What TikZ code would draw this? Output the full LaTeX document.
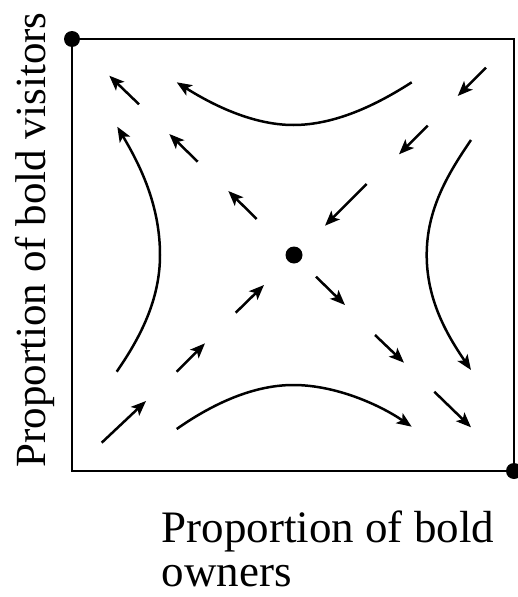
\documentclass[tikz,border=0pt]{standalone}
\usepackage{fontspec}
\setmainfont{Liberation Serif}
\usetikzlibrary{arrows.meta}
\begin{document}
\begin{tikzpicture}[x=1pt,y=-1pt,
  flow/.style={line width=2.5pt,-{Stealth[length=15pt,width=12pt,inset=3.5pt]}},
  frame/.style={line width=2.5pt},
  dotnode/.style={circle,fill=black,inner sep=0pt,minimum size=16pt},
  lbl/.style={inner sep=0pt}]
\useasboundingbox (0,0) rectangle (517,597);
% frame
\coordinate (TL) at (72,39);
\coordinate (BR) at (514,471);
\draw[frame] (TL) rectangle (BR);
\node[dotnode] (d1) at (TL) {};
\node[dotnode] (d2) at (BR) {};
\node[dotnode,minimum size=17pt] (c) at (294,255) {};
% straight arrows, up-left
\coordinate (a1s) at (139,104.3);   \coordinate (a1e) at (109.3,75.7);
\coordinate (a2s) at (197.7,161.7); \coordinate (a2e) at (169.3,134);
\coordinate (a3s) at (256.7,219);   \coordinate (a3e) at (228.3,191);
% up-right
\coordinate (a4s) at (101.7,442.7); \coordinate (a4e) at (146,401);
\coordinate (a5s) at (176.7,371.7); \coordinate (a5e) at (205,343.3);
\coordinate (a6s) at (235.7,312.7); \coordinate (a6e) at (264,285);
% down-left
\coordinate (a7s) at (486,67.7);    \coordinate (a7e) at (457.7,96);
\coordinate (a8s) at (427.7,125.7); \coordinate (a8e) at (399,154.3);
\coordinate (a9s) at (366.7,184);   \coordinate (a9e) at (325,225.7);
% down-right
\coordinate (b1s) at (316,276.7);   \coordinate (b1e) at (345,305);
\coordinate (b2s) at (375,335);     \coordinate (b2e) at (404,362.7);
\coordinate (b3s) at (434.3,391.7); \coordinate (b3e) at (471,427.3);
\foreach \p in {a1,a2,a3,a4,a5,a6,a7,a8,a9,b1,b2,b3}
  \draw[flow] (\p s) -- (\p e);
% curved trajectories
\coordinate (ts) at (411.7,82.3); \coordinate (tm) at (293.3,125); \coordinate (te) at (176.7,82.3);
\draw[flow] (ts) .. controls (378,104) and (336,125) .. (tm)
                 .. controls (250,125) and (208,102) .. (te);
\coordinate (bs) at (176.7,429); \coordinate (bm) at (293.3,385); \coordinate (be) at (411.7,426.7);
\draw[flow] (bs) .. controls (208,407) and (250,385) .. (bm)
                 .. controls (336,385) and (380,405) .. (be);
\coordinate (ls) at (116.7,371.7); \coordinate (lm) at (160,255); \coordinate (le) at (117.3,126.7);
\draw[flow] (ls) .. controls (140,338) and (160,300) .. (lm)
                 .. controls (160,205) and (140,165) .. (le);
\coordinate (rs) at (471,140); \coordinate (rm) at (426.7,255); \coordinate (re) at (471,370);
\draw[flow] (rs) .. controls (447,175) and (426.7,210) .. (rm)
                 .. controls (426.7,300) and (447,335) .. (re);
% labels
\node[lbl,rotate=90,anchor=base,font=\fontsize{43}{46}\selectfont] (ylab) at (45,240) {Proportion of bold visitors};
\node[lbl,anchor=base west,align=left,font=\fontsize{45}{44}\selectfont] (xlab) at (161.5,586) {Proportion of bold\\owners};
\end{tikzpicture}
\end{document}
